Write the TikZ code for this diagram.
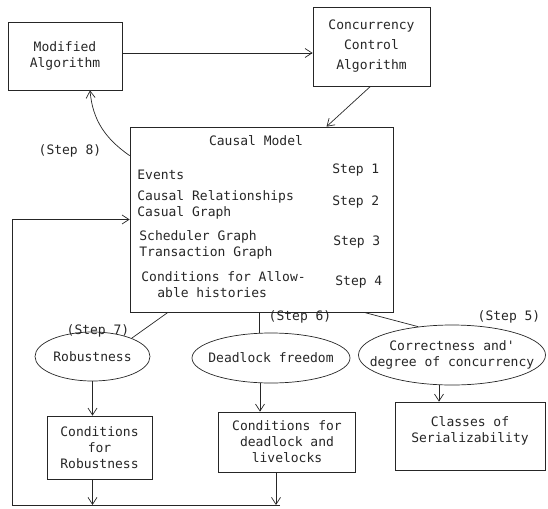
\documentclass[tikz,border=0pt]{standalone}
\usepackage{fontspec}
\setmonofont{DejaVu Sans Mono}
\usetikzlibrary{arrows.meta,shapes.geometric}
\tikzset{
	box/.style={draw, rectangle, align=center, inner sep=0pt},
	oval/.style={draw, ellipse, inner sep=0pt},
	txt/.style={anchor=west, align=left, inner sep=0pt},
	arr/.style={-{Straight Barb[length=7pt,width=9pt]}},
}

\begin{document}
\begin{tikzpicture}[x=1pt, y=-1pt, line width=0.7pt, draw=black!85, text=black!85,
	every node/.style={font=\ttfamily\fontsize{13}{16}\selectfont}]
			%%%%% START %%%%%
			\useasboundingbox (0,0) rectangle (548,508);
			
			\node[box, minimum width=114pt, minimum height=68pt] (mod) at (65,56) {Modified\\Algorithm};
			\node[box, minimum width=117pt, minimum height=79pt, font=\ttfamily\fontsize{13}{20}\selectfont] (cca) at (371.5,46.5) {Concurrency\\Control\\Algorithm};
			
			\node[box, minimum width=263pt, minimum height=185pt] (cm) at (261.5,219.5) {};
			\node (cmtitle) at (256,141) {Causal Model};
			\node[txt] (ev) at (137,175) {Events};
			\node[txt] (s1) at (332,170) {Step 1};
			\node[txt] (cr) at (137,205) {Causal Relationships\\Casual Graph};
			\node[txt] (s2) at (332,202) {Step 2};
			\node[txt] (sg) at (139,244.5) {Scheduler Graph\\Transaction Graph};
			\node[txt] (s3) at (333,242) {Step 3};
			\node[txt] (ca) at (141,285) {Conditions for Allow-\\\hspace*{16pt}able histories};
			\node[txt] (s4) at (335,282) {Step 4};
			
			\node[oval, minimum width=115pt, minimum height=49pt, label=center:Robustness] (rob) at (92.5,356.5) {};
			\node[oval, minimum width=158pt, minimum height=50pt, label=center:Deadlock freedom] (dlk) at (271,358) {};
			\node[oval, minimum width=187pt, minimum height=60pt,
				label={[align=center]center:Correctness and'\\degree of concurrency}] (cor) at (452,355) {};
			
			\node[box, minimum width=105pt, minimum height=63pt] (crb) at (99.5,447.5) {Conditions\\for\\Robustness};
			\node[box, minimum width=137pt, minimum height=60pt] (cdl) at (287,442) {Conditions for\\deadlock and\\livelocks};
			\node[box, minimum width=150pt, minimum height=68pt,
				label={[align=center, yshift=5pt]center:Classes of\\Serializability}] (cls) at (470,436) {};
			
			\node (st8) at (70,151) {(Step 8)};
			\node (st7) at (98,331) {(Step 7)};
			\node (st6) at (300,317) {(Step 6)};
			\node (st5) at (509,317) {(Step 5)};
			
			% top loop
			\draw[arr] ([yshift=3pt]mod.east) -- ([yshift=3pt]mod.east -| cca.west);
			\draw[arr] ([xshift=-1pt]cca.south) -- ([xshift=65pt]cm.north);
			\draw[arr] ([yshift=-29pt]cm.north west) to[out=145, in=-85] ([xshift=25pt]mod.south);
			
			% steps 5 to 7
			\draw ([xshift=-93.5pt]cm.south) -- (rob.25);
			\draw ([xshift=-2.5pt]cm.south) -- ([xshift=-2.5pt]cm.south |- dlk.north);
			\draw ([xshift=102.5pt]cm.south) -- (cor.140);
			
			\draw[arr] (rob.south) -- (rob.south |- crb.north);
			\draw[arr] ([xshift=-11pt]dlk.south) -- ([xshift=-11pt]dlk.south |- cdl.north);
			\draw[arr] ([xshift=-13pt]cor.south) -- ([xshift=-13pt]cor.south |- cls.north);
			
			% feedback
			\coordinate (bl) at (12,505);
			\coordinate (br) at (280,505);
			\draw[arr] (rob.south |- crb.south) -- (rob.south |- bl);
			\draw[arr] ([xshift=-11pt]cdl.south) -- ([xshift=-11pt]cdl.south |- bl);
			\draw[arr] (br) -- (bl) -- (bl |- cm.west) -- (cm.west);
			%%%%% END %%%%%
\end{tikzpicture}
\end{document}
